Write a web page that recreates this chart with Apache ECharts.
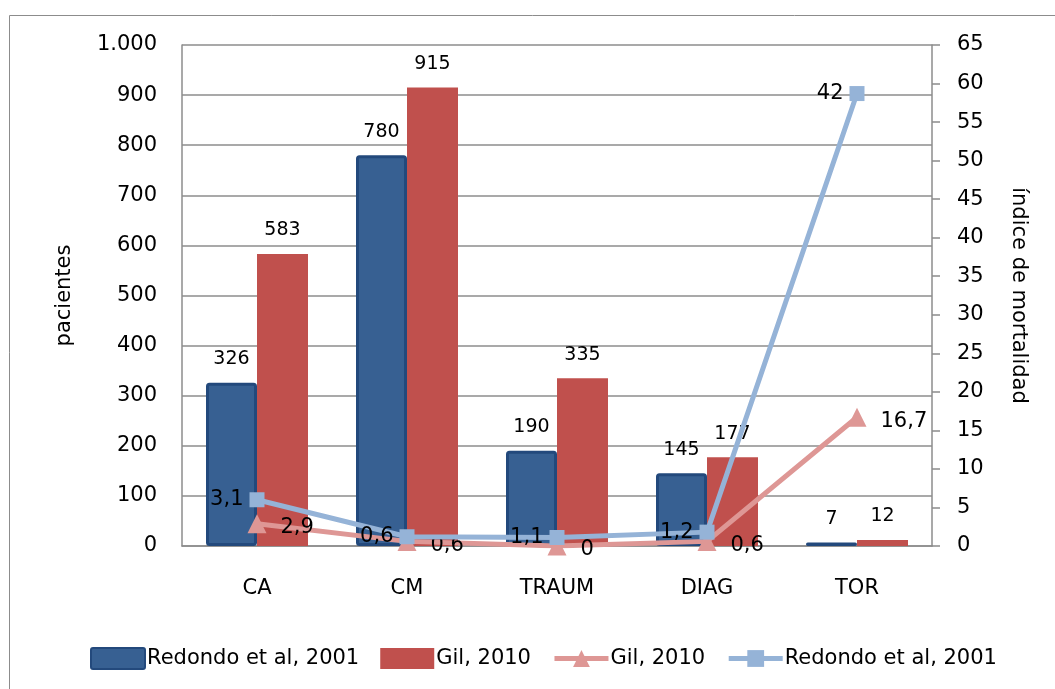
<!DOCTYPE html>
<html>
<head>
<meta charset="utf-8">
<script src="https://cdn.jsdelivr.net/npm/echarts@6/dist/echarts.min.js"></script>
<style>html,body{margin:0;padding:0;background:#fff}#c{width:1055px;height:689px}</style>
</head>
<body>
<div id="c"></div>
<script>
const categories = ['CA', 'CM', 'TRAUM', 'DIAG', 'TOR'];
const redondoPatients = [326, 780, 190, 145, 7];
const gilPatients = [583, 915, 335, 177, 12];
const gilMortality = [2.9, 0.6, 0, 0.6, 16.7];
const redondoMortality = [3.1, 0.6, 1.1, 1.2, 42];
const leftTicks = { min: 0, max: 1000, interval: 100 };
const rightTicks = { min: 0, max: 65, interval: 5 };
const legendNames = {
  rb: 'Redondo et al, 2001', gb: 'Gil, 2010', gl: 'Gil, 2010', rl: 'Redondo et al, 2001'
};

const FONT = 'DejaVu Sans';
const chart = echarts.init(document.getElementById('c'), null, { renderer: 'canvas' });
const dec = v => String(v).replace('.', ',');
const thousands = v => v >= 1000 ? (Math.floor(v / 1000) + '.' + String(v % 1000).padStart(3, '0')) : String(v);

chart.setOption({
  animation: false,
  textStyle: { fontFamily: FONT },
  graphic: [{
    type: 'rect', shape: { x: 9.5, y: 15.5, width: 1100, height: 720 },
    style: { fill: 'none', stroke: '#8c8c8c', lineWidth: 1 }, silent: true, z: -10
  }],
  grid: { left: 182, right: 123, top: 45, bottom: 143, containLabel: false },
  legend: {
    bottom: 14, left: 85, itemWidth: 54, itemHeight: 21, itemGap: 21,
    data: [
      { name: 'rb', icon: 'path://M2,0 L52,0 Q54,0 54,2 L54,19 Q54,21 52,21 L2,21 Q0,21 0,19 L0,2 Q0,0 2,0 Z' },
      { name: 'gb', icon: 'rect' },
      { name: 'gl', lineStyle: { width: 5 } },
      { name: 'rl', lineStyle: { width: 5 } }
    ],
    formatter: n => legendNames[n],
    textStyle: { fontFamily: FONT, fontSize: 21, color: '#000', padding: [0, 0, 0, -3] }
  },
  xAxis: {
    type: 'category', data: categories,
    axisLine: { lineStyle: { color: '#8c8c8c', width: 1.5 } },
    axisTick: { show: false },
    axisLabel: { color: '#000', fontSize: 21, fontFamily: FONT, margin: 32 }
  },
  yAxis: [{
    type: 'value', min: leftTicks.min, max: leftTicks.max, interval: leftTicks.interval,
    name: 'pacientes', nameLocation: 'middle', nameGap: 107, nameRotate: 90,
    nameTextStyle: { color: '#000', fontSize: 21, fontFamily: FONT },
    axisLine: { show: true, lineStyle: { color: '#8c8c8c', width: 1.5 } },
    axisTick: { show: false },
    splitLine: { lineStyle: { color: '#8c8c8c', width: 1.5 } },
    axisLabel: { color: '#000', fontSize: 21, fontFamily: FONT, margin: 25, formatter: thousands }
  }, {
    type: 'value', min: rightTicks.min, max: rightTicks.max, interval: rightTicks.interval,
    position: 'right',
    name: 'índice de mortalidad', nameLocation: 'middle', nameGap: 76, nameRotate: -90,
    nameTextStyle: { color: '#000', fontSize: 21, fontFamily: FONT },
    axisLine: { show: true, lineStyle: { color: '#8c8c8c', width: 1.5 } },
    axisTick: { show: true, length: 8, lineStyle: { color: '#8c8c8c', width: 1.5 } },
    splitLine: { show: false },
    axisLabel: { color: '#000', fontSize: 21, fontFamily: FONT, margin: 25 }
  }],
  series: [{
    name: 'rb', type: 'bar', data: redondoPatients, barGap: '0%', barCategoryGap: '32%',
    itemStyle: { color: '#376092', borderColor: '#23497c', borderWidth: 3, borderRadius: 2 },
    label: { show: true, position: 'top', distance: 14, color: '#000', fontSize: 19, fontFamily: FONT }
  }, {
    name: 'gb', type: 'bar', data: gilPatients,
    itemStyle: { color: '#C0504D' },
    label: { show: true, position: 'top', distance: 14, color: '#000', fontSize: 19, fontFamily: FONT }
  }, {
    name: 'gl', type: 'line', yAxisIndex: 1, data: gilMortality, stack: 'mort',
    symbol: 'triangle', symbolSize: 19, showAllSymbol: true,
    lineStyle: { color: '#DE9795', width: 5 }, itemStyle: { color: '#DE9795' },
    label: { show: true, position: 'right', distance: 14, color: '#000', fontSize: 21, fontFamily: FONT, formatter: p => dec(p.value), offset: [0, 4] },
    z: 5
  }, {
    name: 'rl', type: 'line', yAxisIndex: 1, data: redondoMortality, stack: 'mort',
    symbol: 'rect', symbolSize: 15, showAllSymbol: true,
    lineStyle: { color: '#95B3D7', width: 5 }, itemStyle: { color: '#95B3D7' },
    label: { show: true, position: 'left', distance: 6, color: '#000', fontSize: 21, fontFamily: FONT, formatter: p => dec(p.value) },
    z: 6
  }]
});
</script>
</body>
</html>
